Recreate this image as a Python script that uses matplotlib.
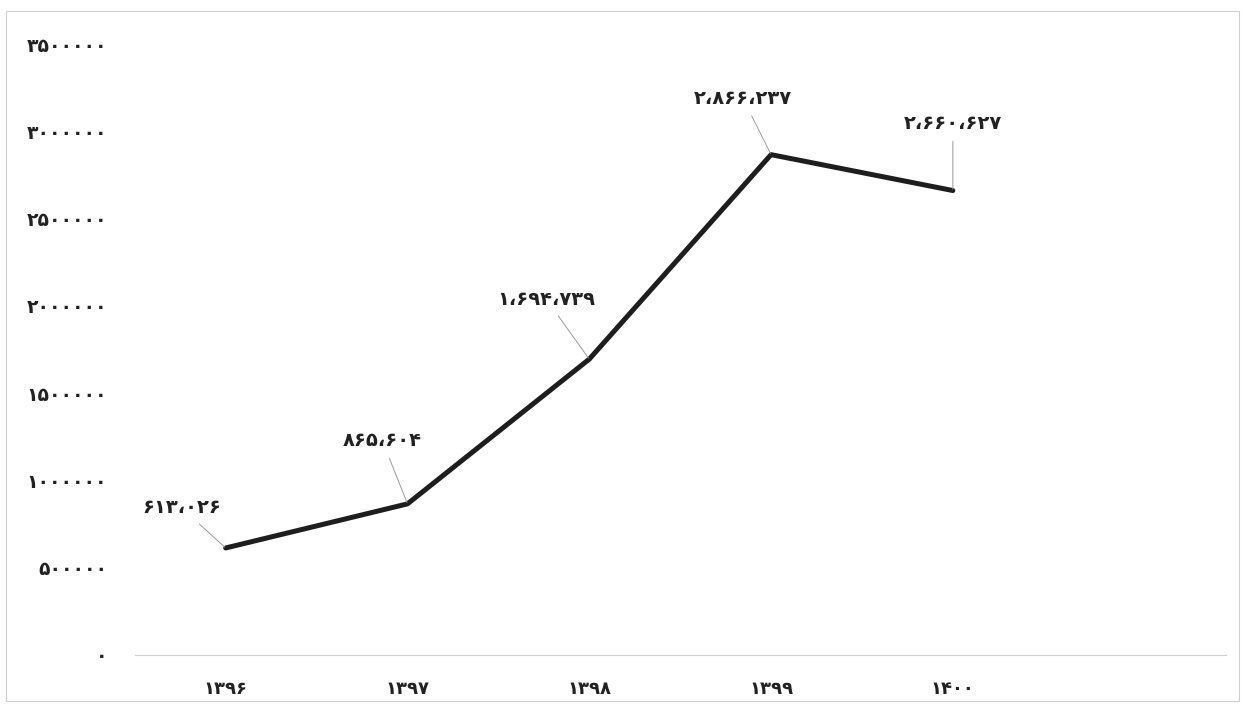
import matplotlib
matplotlib.use("Agg")
import matplotlib.pyplot as plt
from matplotlib.patches import Rectangle

# data
years = [1396, 1397, 1398, 1399, 1400]
values = [613026, 865604, 1694739, 2866237, 2660627]
yticks = [0, 500000, 1000000, 1500000, 2000000, 2500000, 3000000, 3500000]
# label offsets (pixels) from each point
label_dx = [-44, -25, -43, -28, 0]
label_dy = [40, 63, 60, 56, 67]

fa = str.maketrans("0123456789,", "۰۱۲۳۴۵۶۷۸۹،")

def to_fa(s):
    return str(s).translate(fa)

plt.rcParams["font.family"] = ["DejaVu Sans"]

fig = plt.figure(figsize=(12.48, 7.10), dpi=100)
fig.patches.append(Rectangle((0.005, 0.012), 0.988, 0.972, transform=fig.transFigure,
                             fill=False, edgecolor="#cfcfcf", lw=0.8))
ax = fig.add_axes([0.108, 0.0775, 0.874, 0.8605])

x = list(range(len(years)))
ax.plot(x, values, color="#1e1e1e", lw=3.6, solid_joinstyle="round", solid_capstyle="round")

for i, v in enumerate(values):
    ax.annotate(to_fa(f"{v:,}"), xy=(i, v), xytext=(label_dx[i], label_dy[i]),
                textcoords="offset pixels", ha="center", va="center",
                fontsize=14, fontweight="bold", color="#222222",
                arrowprops=dict(arrowstyle="-", color="#9a9a9a", lw=0.7,
                                shrinkA=4, shrinkB=1))

ax.set_xlim(-0.5, 5.5)
ax.set_ylim(0, 3500000)
ax.set_xticks(x)
ax.set_xticklabels([to_fa(y) for y in years], fontsize=13, fontweight="bold", color="#222222")
ax.set_yticks(yticks)
ax.set_yticklabels([to_fa(t) for t in yticks], fontsize=13.5, fontweight="bold", color="#222222")
ax.tick_params(axis="x", length=0, pad=18)
ax.tick_params(axis="y", length=0, pad=20)

for s in ["top", "right", "left"]:
    ax.spines[s].set_visible(False)
ax.spines["bottom"].set_color("#d0d0d0")
ax.spines["bottom"].set_linewidth(0.8)

fig.savefig("out.png", dpi=100)
